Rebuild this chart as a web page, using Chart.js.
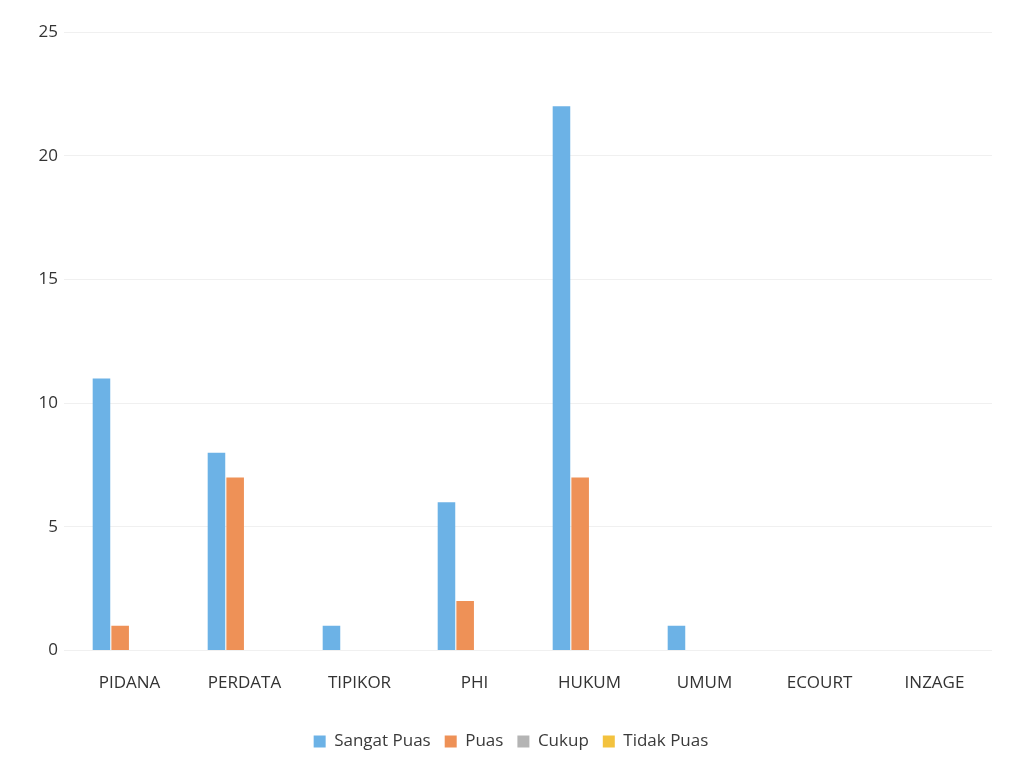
<!DOCTYPE html>
<html><head><meta charset="utf-8">
<script src="https://cdn.jsdelivr.net/npm/chart.js@4/dist/chart.umd.min.js"></script>
<style>html,body{margin:0;padding:0;background:#fff}#w{width:1026px;height:780px}</style>
</head><body><div id="w"><canvas id="c"></canvas></div>
<script>
const categories = ['PIDANA','PERDATA','TIPIKOR','PHI','HUKUM','UMUM','ECOURT','INZAGE'];
const sangatPuas = [11, 8, 1, 6, 22, 1, 0, 0];
const puas = [1, 7, 0, 2, 7, 0, 0, 0];
const cukup = [0, 0, 0, 0, 0, 0, 0, 0];
const tidakPuas = [0, 0, 0, 0, 0, 0, 0, 0];
const yTicks = [0, 5, 10, 15, 20, 25];

Chart.defaults.font.family = "'Open Sans', 'Noto Sans', sans-serif";
new Chart(document.getElementById('c'), {
  type: 'bar',
  data: {
    labels: categories,
    datasets: [
      {label:'Sangat Puas', data:sangatPuas, backgroundColor:'#6cb2e6'},
      {label:'Puas', data:puas, backgroundColor:'#ee9157'},
      {label:'Cukup', data:cukup, backgroundColor:'#b4b4b4'},
      {label:'Tidak Puas', data:tidakPuas, backgroundColor:'#f3c23e'}
    ]
  },
  options: {
    responsive:true, maintainAspectRatio:false, animation:false,
    layout:{padding:{left:30,right:34,top:32,bottom:20}},
    datasets:{bar:{barPercentage:0.94, categoryPercentage:0.65}},
    plugins:{
      legend:{position:'bottom', labels:{boxWidth:12, boxHeight:12, color:'#3a3a3a', font:{size:17}, padding:14}},
      tooltip:{enabled:false}
    },
    scales:{
      x:{grid:{display:false}, border:{display:false},
         afterFit:(s)=>{s.height+=12;},
         ticks:{color:'#333', font:{size:17}, padding:14, maxRotation:0}},
      y:{min:0, max:25, afterBuildTicks:(s)=>{s.ticks=yTicks.map(v=>({value:v}));},
         afterFit:(s)=>{s.width=42;},
         grid:{color:'#f0f0f0'}, border:{display:false},
         ticks:{color:'#333', font:{size:17}, padding:6}}
    }
  }
});
</script></body></html>
